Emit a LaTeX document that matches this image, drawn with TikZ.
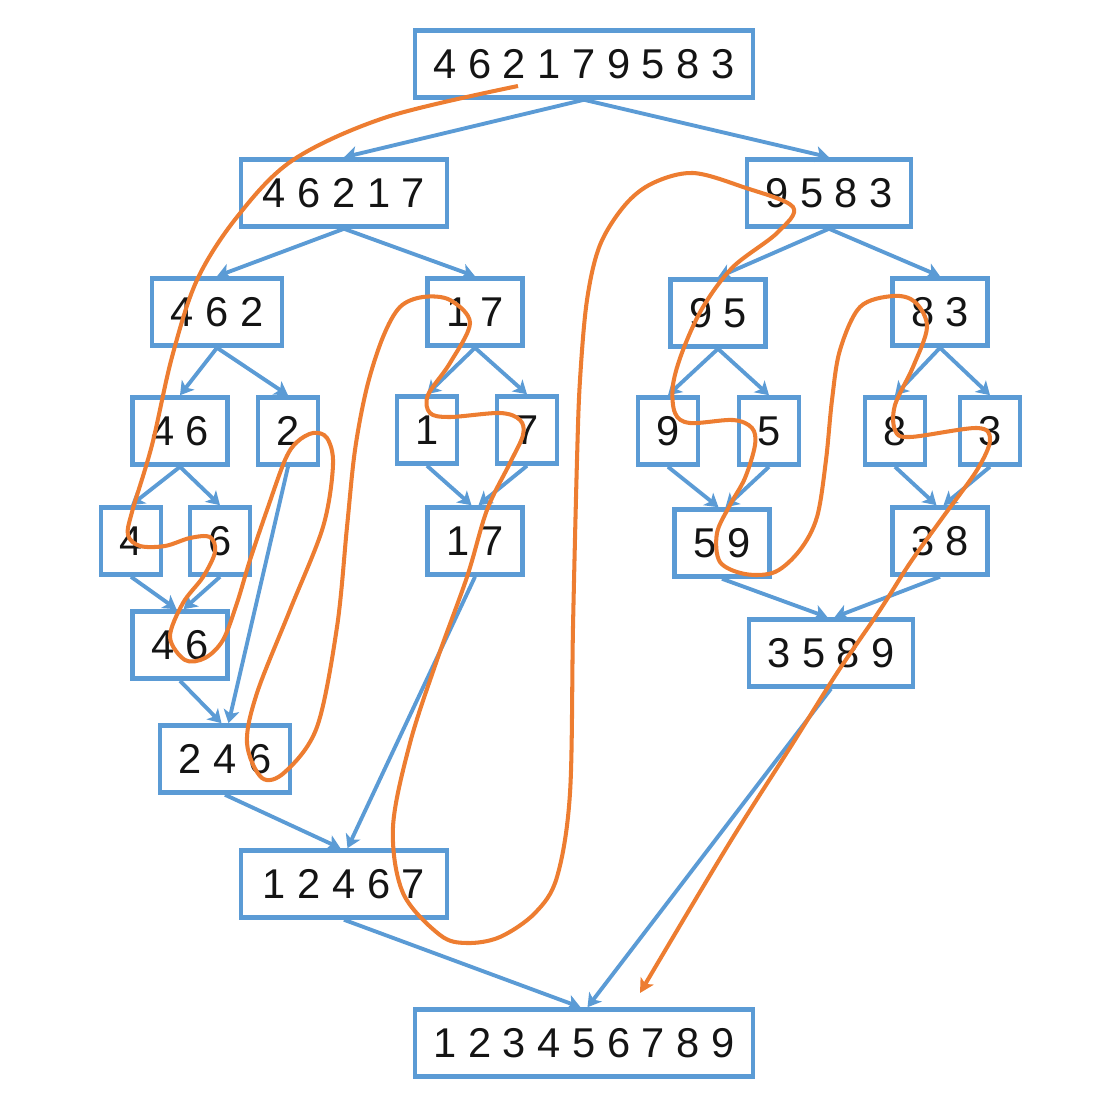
\documentclass[tikz,border=0pt]{standalone}
\usepackage{fontspec}
\setmainfont{Liberation Sans}
\usetikzlibrary{arrows.meta}
\definecolor{msblue}{HTML}{5B9BD5}
\definecolor{msorange}{HTML}{ED7D31}

\begin{document}
\begin{tikzpicture}[
  x=0.02cm, y=-0.02cm,
  box/.style={draw=msblue, line width=2.6pt, minimum height=1.34cm,
              inner xsep=0.37cm, font=\fontsize{23.7}{28}\selectfont, text=black!92},
  wide/.style={box, minimum width=4.12cm},
  arr/.style={-{Stealth[length=7.5pt,width=9pt,inset=2pt]}, draw=msblue, line width=2.2pt},
  trace/.style={-{Stealth[length=8pt,width=8.5pt,inset=2pt]}, draw=msorange, line width=2.3pt}
]
\useasboundingbox (0,0) rectangle (1120,1112);

% split
\node[box] (root) at (584,64) {4 6 2 1 7 9 5 8 3};
\node[wide] (a) at (344,193) {4 6 2 1 7};
\node[box] (b) at (829,193) {9 5 8 3};
\node[box] (aa) at (217,312) {4 6 2};
\node[box] (ab) at (475,312) {1 7};
\node[box] (ba) at (718,313) {9 5};
\node[box] (bb) at (940,312) {8 3};
\node[box] (aaa) at (180,431) {4 6};
\node[box] (aab) at (288,431) {2};
\node[box] (aba) at (427,430) {1};
\node[box] (abb) at (527,430) {7};
\node[box] (baa) at (668,431) {9};
\node[box] (bab) at (769,431) {5};
\node[box] (bba) at (895,431) {8};
\node[box] (bbb) at (990,431) {3};
\node[box] (aaaa) at (131,541) {4};
\node[box] (aaab) at (220,541) {6};

% merge
\node[box] (aaam) at (180,645) {4 6};
\node[box] (abm) at (475,541) {1 7};
\node[box] (bam) at (722,543) {5 9};
\node[box] (bbm) at (940,541) {3 8};
\node[box] (aam) at (225,759) {2 4 6};
\node[box] (bm) at (831,653) {3 5 8 9};
\node[wide] (am) at (344,884) {1 2 4 6 7};
\node[box] (sorted) at (584,1043) {1 2 3 4 5 6 7 8 9};

\draw[arr] (root.south) -- (a.north);
\draw[arr] (root.south) -- (b.north);
\draw[arr] (a.south) -- (aa.north);
\draw[arr] (a.south) -- (ab.north);
\draw[arr] (b.south) -- (ba.north);
\draw[arr] (b.south) -- (bb.north);
\draw[arr] (aa.south) -- (aaa.north);
\draw[arr] (aa.south) -- (aab.north);
\draw[arr] (ab.south) -- (aba.north);
\draw[arr] (ab.south) -- (abb.north);
\draw[arr] (ba.south) -- (baa.north);
\draw[arr] (ba.south) -- (bab.north);
\draw[arr] (bb.south) -- (bba.north);
\draw[arr] (bb.south) -- (bbb.north);
\draw[arr] (aaa.south) -- (aaaa.north);
\draw[arr] (aaa.south) -- (aaab.north);

\draw[arr] (aaaa.south) -- ([xshift=-2pt]aaam.north);
\draw[arr] (aaab.south) -- ([xshift=2pt]aaam.north);
\draw[arr] (aba.south) -- ([xshift=-2pt]abm.north);
\draw[arr] (abb.south) -- ([xshift=2pt]abm.north);
\draw[arr] (baa.south) -- ([xshift=-2pt]bam.north);
\draw[arr] (bab.south) -- ([xshift=2pt]bam.north);
\draw[arr] (bba.south) -- ([xshift=-2pt]bbm.north);
\draw[arr] (bbb.south) -- ([xshift=2pt]bbm.north);
\draw[arr] (aaam.south) -- ([xshift=-2pt]aam.north);
\draw[arr] (aab.south) -- ([xshift=2pt]aam.north);
\draw[arr] (aam.south) -- ([xshift=-2pt]am.north);
\draw[arr] (abm.south) -- ([xshift=2pt]am.north);
\draw[arr] (bam.south) -- ([xshift=-2pt]bm.north);
\draw[arr] (bbm.south) -- ([xshift=2pt]bm.north);
\draw[arr] (am.south) -- ([xshift=-2pt]sorted.north);
\draw[arr] (bm.south) -- ([xshift=2pt]sorted.north);

% order of the calls
\draw[trace] plot[smooth, tension=0.55] coordinates {
  (518,86) (387,117) (293,160) (237,217) (197,280) (172,357) (152,445)
  (132,512) (128,535)
  (140,546) (165,546) (190,538) (210,537) (215,552) (203,577) (183,603)
  (170,637) (185,660) (205,658) (223,640) (237,603) (250,560) (267,510)
  (285,460) (297,442) (313,433) (327,438) (333,465) (323,527) (290,610)
  (257,693) (247,743) (262,778) (285,772) (317,727) (337,627) (347,527)
  (355,450) (367,387) (383,337) (400,307) (423,297) (450,300) (470,323)
  (450,363) (428,395) (430,413) (450,417) (500,413) (520,420) (523,435)
  (510,463) (487,510) (467,577) (437,660) (410,743) (393,827) (403,893)
  (440,935) (467,943) (500,937) (535,913) (557,877) (570,793) (573,627)
  (577,460) (580,380) (587,300) (600,245) (625,205) (653,183) (693,173)
  (743,187) (793,207) (777,233) (733,267) (703,307) (683,350) (673,385)
  (675,413) (690,423) (733,420) (752,428) (755,445) (745,478) (730,505)
  (717,533) (720,562) (745,574) (775,572) (800,550) (817,517) (826,460)
  (832,400) (840,350) (860,307) (893,296) (915,302) (927,327) (913,367)
  (895,405) (895,430) (910,437) (977,428) (990,440) (977,470) (943,517)
  (910,563) (880,610) (837,673) (793,743) (727,847) (640,993)};
\end{tikzpicture}
\end{document}
